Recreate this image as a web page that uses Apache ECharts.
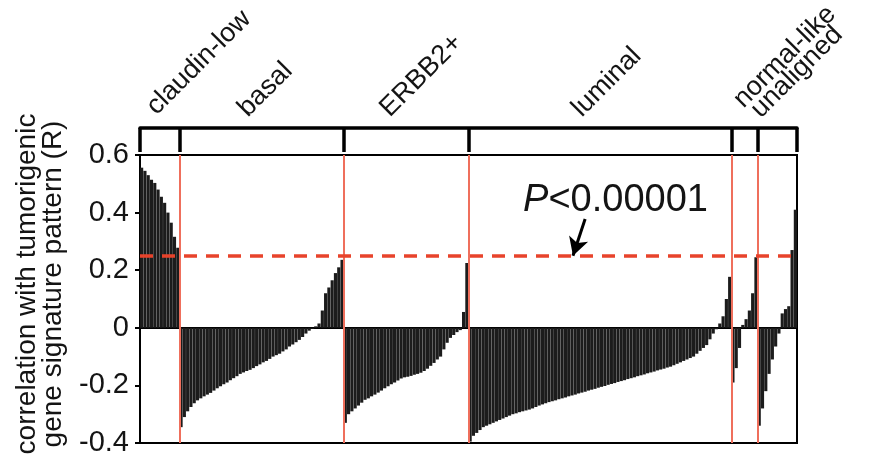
<!DOCTYPE html>
<html>
<head>
<meta charset="utf-8">
<script src="https://cdn.jsdelivr.net/npm/echarts@6/dist/echarts.min.js"></script>
<style>html,body{margin:0;padding:0;background:#fff}#c{width:873px;height:457px}</style>
</head>
<body>
<div id="c"></div>
<script>
// ---- data ----
const groupNames = ['claudin-low', 'basal', 'ERBB2+', 'luminal', 'normal-like', 'unaligned'];
const claudinLow = [0.556, 0.545, 0.53, 0.514, 0.503, 0.48, 0.455, 0.434, 0.40, 0.365, 0.316, 0.278];
const basal = [
  -0.345, -0.31, -0.29, -0.275, -0.262, -0.252, -0.245, -0.238, -0.232, -0.226,
  -0.218, -0.21, -0.203, -0.196, -0.19, -0.182, -0.175, -0.168, -0.16, -0.155,
  -0.15, -0.146, -0.14, -0.133, -0.127, -0.12, -0.115, -0.108, -0.1, -0.095,
  -0.09, -0.082, -0.075, -0.065, -0.058, -0.05, -0.042, -0.032, -0.02, -0.01,
  -0.003, 0.005, 0.015, 0.06, 0.12, 0.14, 0.165, 0.19, 0.21, 0.236
];
const erbb2 = [
  -0.33, -0.30, -0.29, -0.28, -0.27, -0.26, -0.25, -0.245, -0.238, -0.232,
  -0.225, -0.218, -0.21, -0.203, -0.196, -0.19, -0.183, -0.176, -0.172, -0.17,
  -0.167, -0.163, -0.16, -0.156, -0.15, -0.142, -0.132, -0.122, -0.11, -0.1,
  -0.075, -0.052, -0.035, -0.025, -0.015, -0.008, 0.055, 0.225
];
const luminal = [
  -0.395, -0.375, -0.365, -0.355, -0.345, -0.34, -0.335, -0.33, -0.325, -0.32,
  -0.315, -0.31, -0.305, -0.30, -0.297, -0.293, -0.29, -0.287, -0.284, -0.28,
  -0.275, -0.27, -0.266, -0.262, -0.258, -0.255, -0.252, -0.248, -0.245, -0.242,
  -0.238, -0.235, -0.232, -0.228, -0.225, -0.222, -0.218, -0.215, -0.212, -0.208,
  -0.205, -0.202, -0.198, -0.195, -0.192, -0.188, -0.185, -0.182, -0.178, -0.175,
  -0.172, -0.168, -0.165, -0.162, -0.158, -0.155, -0.152, -0.148, -0.145, -0.142,
  -0.138, -0.135, -0.13, -0.125, -0.12, -0.115, -0.11, -0.105, -0.10, -0.09,
  -0.08, -0.07, -0.06, -0.04, -0.02, -0.005, 0.015, 0.04, 0.10, 0.177
];
const normalLike = [-0.19, -0.14, -0.07, 0.01, 0.03, 0.06, 0.12, 0.245];
const unaligned = [-0.34, -0.28, -0.22, -0.16, -0.11, -0.065, -0.02, 0.05, 0.065, 0.075, 0.27, 0.41];
const yTickLabels = ['-0.4', '-0.2', '0', '0.2', '0.4', '0.6'];
const thresholdR = 0.25;
const pLabel = 'P<0.00001';
const yAxisName = 'correlation with tumorigenic\ngene signature pattern (R)';

// ---- build ----
const groupValues = [claudinLow, basal, erbb2, luminal, normalLike, unaligned];
const bounds = [0];
groupValues.forEach(a => bounds.push(bounds[bounds.length - 1] + a.length));
const total = bounds[bounds.length - 1];
const barData = [];
let k = 0;
groupValues.forEach(a => a.forEach(v => { barData.push([k + 0.5, v]); k++; }));

const FONT = '"Liberation Sans", Arial, sans-serif';
const INK = '#141414';

const chart = echarts.init(document.getElementById('c'), null, { renderer: 'canvas' });
chart.setOption({
  animation: false,
  backgroundColor: '#fff',
  grid: {
    left: 140, right: 76, top: 155, bottom: 14,
    show: true, borderColor: '#000', borderWidth: 2, backgroundColor: 'transparent',
    containLabel: false, outerBoundsMode: 'none'
  },
  xAxis: [
    {
      type: 'value', min: 0, max: total,
      axisLine: { show: true, onZero: true, lineStyle: { color: '#000', width: 2 } },
      axisTick: { show: false }, axisLabel: { show: false }, splitLine: { show: false }
    },
    {
      type: 'value', min: 0, max: total, position: 'top', offset: 27,
      axisLine: { show: true, onZero: false, lineStyle: { color: '#000', width: 3.5 } },
      axisTick: { show: true, inside: true, length: 24, customValues: bounds, lineStyle: { color: '#000', width: 3.5 } },
      axisLabel: { show: false }, splitLine: { show: false }
    }
  ],
  yAxis: {
    type: 'value', min: -0.4, max: 0.6, interval: 0.2,
    name: yAxisName, nameLocation: 'middle', nameGap: 74, nameRotate: 90,
    nameTextStyle: { fontFamily: FONT, fontSize: 28, lineHeight: 26, color: INK, padding: [0, 0, 0, 30] },
    axisLine: { show: true, lineStyle: { color: '#000', width: 2 } },
    axisTick: { show: true, inside: false, length: 5, lineStyle: { color: '#000', width: 2 } },
    axisLabel: { margin: 11, fontFamily: FONT, fontSize: 29, color: INK, formatter: (v, i) => yTickLabels[i] },
    splitLine: { show: false }
  },
  series: [{
    type: 'bar', xAxisIndex: 0, yAxisIndex: 0,
    data: barData, barWidth: 3.15,
    itemStyle: { color: '#1c1c1c' },
    markLine: {
      silent: true, symbol: 'none', animation: false, label: { show: false },
      data: [
        ...bounds.slice(1, -1).map(b => ({ xAxis: b, lineStyle: { color: '#ef6f5c', width: 2, type: 'solid' } })),
        { yAxis: thresholdR, lineStyle: { color: '#e8432b', width: 3.5, type: [13, 9] } },
        [
          { coord: [135.5, 0.378], symbol: 'none', lineStyle: { color: '#000', width: 3, type: 'solid' } },
          { coord: [131.8, thresholdR], symbol: 'arrow', symbolSize: [15, 18], lineStyle: { color: '#000', width: 3, type: 'solid' } }
        ]
      ]
    }
  }]
});

// ---- annotations placed via the axes ----
const labelAnchors = [6.3, 34.1, 77.3, 135.8, 185, 190.3];
const labelRise = [35, 33, 33, 33, 42, 32];
const gx = v => chart.convertToPixel({ xAxisIndex: 0 }, v);
const gy = v => chart.convertToPixel({ yAxisIndex: 0 }, v);
const topY = gy(0.6);
const graphics = groupNames.map((name, i) => ({
  type: 'text',
  x: gx(labelAnchors[i]), y: topY - labelRise[i],
  rotation: Math.PI / 4,
  style: { text: name, fontFamily: FONT, fontSize: 27, fill: INK, align: 'left', verticalAlign: 'bottom' }
}));
graphics.push({
  type: 'text',
  x: gx(116.6), y: gy(0.3715),
  style: {
    text: '{i|' + pLabel[0] + '}{n|' + pLabel.slice(1) + '}',
    align: 'left', verticalAlign: 'bottom',
    rich: {
      i: { fontFamily: FONT, fontSize: 38, fontStyle: 'italic', fill: INK, lineHeight: 40 },
      n: { fontFamily: FONT, fontSize: 38, fill: INK, lineHeight: 40 }
    }
  }
});
chart.setOption({ graphic: graphics });
</script>
</body>
</html>
